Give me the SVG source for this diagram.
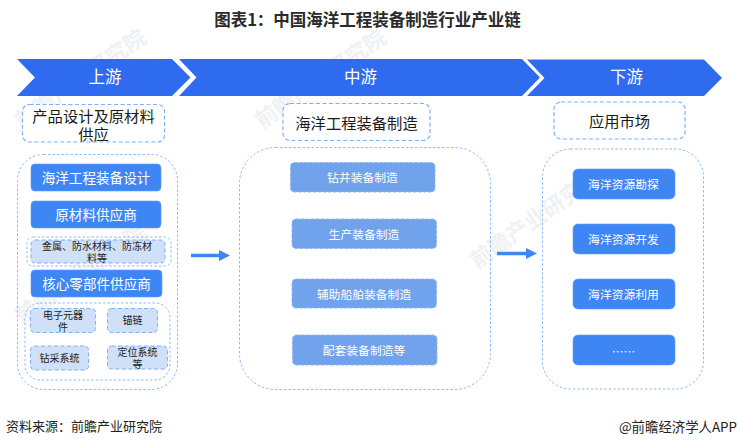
<svg xmlns="http://www.w3.org/2000/svg" width="737" height="447" viewBox="0 0 737 447">
<style>
text{font-family:"Noto Sans CJK SC","Noto Sans",sans-serif;text-anchor:middle}
.band{fill:#2f6bee}
.bt{fill:#fff;font-size:16.5px}
.hd{fill:#fff;stroke:#7db0f7;stroke-width:1.2;stroke-dasharray:4 2.5}
.ht{fill:#1a1a1a;font-size:15.300px}
.wrap{fill:none;stroke:#8dbaf8;stroke-width:1;stroke-dasharray:2.5 2}
.blue{fill:#3f86f5;stroke:#5f9af7;stroke-width:.6}
.wt{fill:#fff;font-size:13.600px}
.wts{fill:#fff;font-size:11.800px}
.mid{fill:#71a3ec;stroke:#8fb8f2;stroke-width:1;stroke-dasharray:3 2}
.lt{fill:#cfe0f8;stroke:#7db0f7;stroke-width:1;stroke-dasharray:4 2.5}
.dk{fill:#222;font-size:10px}
.wm{fill:#eff1f4;font-size:22px;font-weight:700}
.conn{stroke:#3f86f5;stroke-width:3.5;fill:none}
</style>
<rect width="737" height="447" fill="#fff"/>
<g id="watermarks">
<text class="wm" transform="translate(85,85) rotate(-35)">前瞻产业研究院</text>
<text class="wm" transform="translate(325,85) rotate(-35)">前瞻产业研究院</text>
<text class="wm" transform="translate(85,280) rotate(-35)">前瞻产业研究院</text>
<text class="wm" transform="translate(540,225) rotate(-35)">前瞻产业研究院</text>
</g>
<text x="367.500" y="26" font-size="16.500" font-weight="700" fill="#2a2a2a">图表1：中国海洋工程装备制造行业产业链</text>
<g id="bands">
<polygon class="band" points="17,59 172,59 190.500,77.500 172,96 17,96 35,77.500"/>
<polygon class="band" points="179,59 522,59 540,77.500 522,96 179,96 196.500,77.500"/>
<polygon class="band" points="527,59.500 704,59.500 722,78 704,96 527,96 544.500,78"/>
<text class="bt" x="105" y="83">上游</text>
<text class="bt" x="360.500" y="83">中游</text>
<text class="bt" x="626.500" y="83">下游</text>
</g>
<g id="h1"><rect class="hd" x="22.500" y="104.500" width="142" height="37.500" rx="7"/><text class="ht" x="93.500" y="122">产品设计及原材料</text><text class="ht" x="93.500" y="140">供应</text></g>
<g id="h2"><rect class="hd" x="283" y="103.500" width="147" height="37" rx="7"/><text class="ht" x="356.500" y="128.500">海洋工程装备制造</text></g>
<g id="h3"><rect class="hd" x="554" y="102" width="131" height="37" rx="7"/><text class="ht" x="619.500" y="127">应用市场</text></g>
<g id="wraps">
<rect class="wrap" x="17.500" y="154.500" width="160" height="235" rx="26"/>
<rect class="wrap" x="239.500" y="147.500" width="251" height="242" rx="36"/>
<rect class="wrap" x="542.500" y="149" width="161" height="240" rx="28"/>
</g>
<g id="u1"><rect class="blue" x="31" y="164" width="130" height="27" rx="4"/><text class="wt" x="96" y="182.500">海洋工程装备设计</text></g>
<g id="u2"><rect class="blue" x="31" y="201" width="130" height="27" rx="4"/><text class="wt" x="96" y="219.500">原材料供应商</text></g>
<g id="u3"><rect class="wrap" x="27" y="237" width="144" height="29" rx="6"/><rect class="lt" x="31" y="240" width="134" height="23" rx="4"/><text class="dk" x="97" y="250">金属、防水材料、防冻材</text><text class="dk" x="97" y="262">料等</text></g>
<g id="u4"><rect class="blue" x="31" y="270" width="131" height="27" rx="4"/><text class="wt" x="96.500" y="288.500">核心零部件供应商</text></g>
<g id="u5"><rect class="wrap" x="25" y="303" width="145" height="77" rx="15"/></g>
<g id="u6"><rect class="lt" x="30.500" y="308.500" width="65" height="24" rx="4"/><text class="dk" x="63" y="319">电子元器</text><text class="dk" x="63" y="331">件</text></g>
<g id="u7"><rect class="lt" x="107.500" y="308.500" width="50" height="24" rx="4"/><text class="dk" x="132.500" y="324">锚链</text></g>
<g id="u8"><rect class="lt" x="30.500" y="346" width="58" height="24" rx="4"/><text class="dk" x="59.500" y="362">钻采系统</text></g>
<g id="u9"><rect class="lt" x="107.500" y="346" width="60" height="23" rx="4"/><text class="dk" x="137.500" y="356">定位系统</text><text class="dk" x="137.500" y="368">等</text></g>
<g id="m1"><rect class="mid" x="290.500" y="162.500" width="144.500" height="29.500" rx="4"/><text class="wts" x="362.500" y="182">钻井装备制造</text></g>
<g id="m2"><rect class="mid" x="292" y="219" width="144.500" height="29.500" rx="4"/><text class="wts" x="364" y="238.500">生产装备制造</text></g>
<g id="m3"><rect class="mid" x="292" y="279" width="144.500" height="29" rx="4"/><text class="wts" x="364" y="298.500">辅助船舶装备制造</text></g>
<g id="m4"><rect class="mid" x="292.500" y="335" width="144.500" height="30" rx="4"/><text class="wts" x="364" y="354.500">配套装备制造等</text></g>
<g id="d1"><rect class="blue" x="573" y="169" width="102" height="30" rx="5"/><text class="wts" x="623.500" y="188.500">海洋资源勘探</text></g>
<g id="d2"><rect class="blue" x="573" y="224" width="102" height="30" rx="5"/><text class="wts" x="623.500" y="243.500">海洋资源开发</text></g>
<g id="d3"><rect class="blue" x="573" y="279" width="102" height="30" rx="5"/><text class="wts" x="623.500" y="298.500">海洋资源利用</text></g>
<g id="d4"><rect class="blue" x="573" y="335" width="102" height="30" rx="5"/><text class="wts" x="623.500" y="356">……</text></g>
<g id="connectors">
<line class="conn" x1="191" y1="255.500" x2="220" y2="255.500"/><polygon fill="#3f86f5" points="219,250 230,255.500 219,261"/>
<line class="conn" x1="497" y1="253.500" x2="527" y2="253.500"/><polygon fill="#3f86f5" points="526,248 537,253.500 526,259"/>
</g>
<text x="84" y="431" font-size="13" fill="#222">资料来源：前瞻产业研究院</text>
<text x="678" y="432" font-size="13.400" fill="#222">@前瞻经济学人APP</text>
</svg>
